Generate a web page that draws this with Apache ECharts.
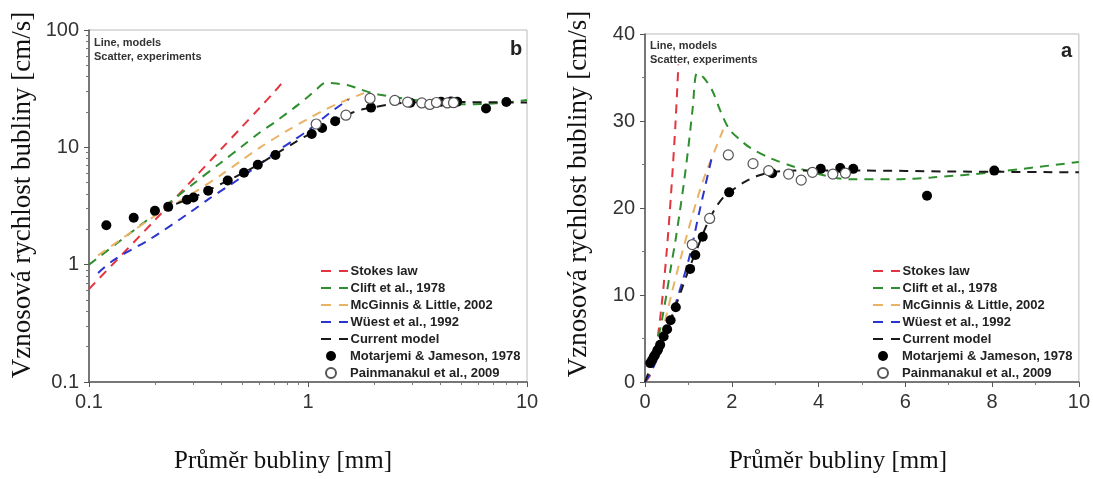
<!DOCTYPE html>
<html>
<head>
	<meta charset="utf-8">
	<title>Vznosova rychlost bubliny</title>
	<script src="https://cdn.jsdelivr.net/npm/echarts@6/dist/echarts.min.js"></script>
</head>
<body style="margin:0;background:#fff">
<div id="container" style="width:1093px;height:479px;"></div>
<script type="text/javascript">
	// modely: [prumer bubliny mm, rychlost cm/s]
	var stokes = [[0.1,0.62],[0.2,2.4],[0.3,5.4],[0.4,9.6],[0.5,15],[0.6,21.6],[0.7,29.5],[0.77,36.5]];
	var clift = [[0.1,1.0],[0.2,2.7],[0.3,4.9],[0.4,7.4],[0.5,10.2],[0.6,13.3],[0.7,16.2],[0.8,19.5],[0.9,23],[1.0,27],[1.1,31.5],[1.2,35.5],
		[1.35,35],[1.55,33.5],[1.75,31],[1.95,29],[2.2,27.8],[2.43,26.9],[2.9,25.7],[3.4,24.8],[4.0,23.9],[4.7,23.3],[5.8,23.3],[6.6,23.5],[8.0,24.1],[10,25.3]];
	var mcginnis = [[0.11,1.2],[0.15,1.8],[0.2,2.6],[0.3,4.1],[0.4,5.8],[0.5,7.8],[0.6,9.9],[0.8,13.8],[1.0,17.5],[1.2,21],[1.4,24],[1.6,26.5],[1.8,29]];
	var wuest = [[0.11,0.85],[0.13,1.1],[0.19,1.65],[0.29,2.8],[0.35,3.6],[0.5,5.6],[0.73,9.4],[0.86,11.5],[1.03,14.5],[1.25,19.5],[1.53,25.6]];
	var current = [[0.25,3.3],[0.3,3.75],[0.35,4.3],[0.43,5.2],[0.5,6.0],[0.6,7.2],[0.7,8.6],[0.85,10.7],[1.0,12.8],[1.2,15.3],[1.4,17.8],[1.6,19.8],
		[1.8,21.2],[2.0,22.0],[2.3,23],[2.6,23.7],[2.9,24.1],[3.5,24.3],[5,24.3],[7,24.2],[10,24.1]];
	// experimenty
	var motarjemi = [[0.12,2.17],[0.16,2.51],[0.2,2.88],[0.23,3.11],[0.28,3.57],[0.3,3.74],[0.35,4.27],[0.43,5.22],[0.51,6.07],[0.59,7.1],[0.71,8.6],
		[1.04,13.0],[1.16,14.6],[1.33,16.7],[1.94,21.8],[2.93,24.0],[4.05,24.5],[4.5,24.6],[4.8,24.5],[6.5,21.4],[8.05,24.3]];
	var painmanakul = [[1.09,15.8],[1.49,18.8],[1.92,26.1],[2.49,25.1],[2.85,24.3],[3.31,23.9],[3.6,23.2],[3.86,24.1],[4.33,23.9],[4.62,24.0]];

	var lineNames = ['Stokes law','Clift et al., 1978','McGinnis & Little, 2002','Wüest et al., 1992','Current model'];
	var dotNames = ['Motarjemi & Jameson, 1978','Painmanakul et al., 2009'];
	var models = [stokes, clift, mcginnis, wuest, current];
	var colors = ['#e3343f','#2f8f2f','#e9b265','#2a35d0','#1a1a1a'];
	var origin = [[0,0]];

	var dom = document.getElementById('container');
	var myChart = echarts.init(dom);

	var series = [];
	for (var p = 0; p < 2; p++) {
		for (var i = 0; i < models.length; i++) {
			series.push({
				name: lineNames[i],
				type: 'line',
				xAxisIndex: p, yAxisIndex: p,
				// v linearnim grafu cary zacinaji v pocatku
				data: p == 1 ? origin.concat(models[i]) : models[i],
				symbol: 'none',
				smooth: 0.3,
				lineStyle: {color: colors[i], width: 2, type: [9, 7]},
				itemStyle: {color: colors[i]},
				z: 2
			});
		}
		series.push({
			name: dotNames[0], type: 'scatter', xAxisIndex: p, yAxisIndex: p,
			data: motarjemi, symbolSize: 10,
			itemStyle: {color: '#000', opacity: 1}, z: 4
		});
		series.push({
			name: dotNames[1], type: 'scatter', xAxisIndex: p, yAxisIndex: p,
			data: painmanakul, symbolSize: 10,
			itemStyle: {color: '#fff', borderColor: '#555', borderWidth: 1.2, opacity: 1}, z: 5
		});
	}

	var tickFont = {fontFamily: 'Liberation Sans', fontSize: 20, color: '#333'};
	var xTitleFont = {fontFamily: 'Liberation Serif', fontSize: 25, color: '#111'};
	var yTitleFont = {fontFamily: 'Liberation Serif', fontSize: 27, color: '#111'};
	var axisLine = {show: true, lineStyle: {color: '#555', width: 1.5}};
	var legendText = {fontFamily: 'Liberation Sans', fontSize: 13, fontWeight: 'bold', color: '#222', padding: [0, 0, 0, -4], lineHeight: 14};

	// legenda: cary (carkovana ikona) a body zvlast
	function lineLegend(left) {
		return {
			left: left, top: 259, orient: 'vertical',
			itemWidth: 30, itemHeight: 2, itemGap: 3,
			icon: 'path://M0,0H10V2H0ZM18,0H27V2H18Z',
			data: lineNames, textStyle: legendText
		};
	}
	function dotLegend(left) {
		return {
			left: left + 4, top: 344, orient: 'vertical',
			itemWidth: 30, itemHeight: 10, itemGap: 3,
			icon: 'circle',
			data: dotNames, textStyle: Object.assign({}, legendText, {padding: [0, 0, 0, -1]})
		};
	}
	var noteStyle = {text: 'Line, models\nScatter, experiments', font: 'bold 11px Liberation Sans', fill: '#333', lineHeight: 14};

	var option = {
		animation: false,
		backgroundColor: '#fff',
		grid: [
			{left: 89, top: 30, width: 438, height: 353, show: true, borderColor: '#bbb', borderWidth: 1},
			{left: 645, top: 34, width: 435, height: 350, show: true, borderColor: '#bbb', borderWidth: 1}
		],
		xAxis: [
			{
				type: 'log', logBase: 10, min: 0.1, max: 10, gridIndex: 0,
				name: 'Průměr bubliny [mm]', nameLocation: 'middle', nameGap: 67,
				nameTextStyle: Object.assign({padding: [0, 50, 0, 0]}, xTitleFont),
				axisLine: axisLine, axisTick: {show: true, length: 5, lineStyle: {color: '#555'}},
				minorTick: {show: true, splitNumber: 9, length: 3, lineStyle: {color: '#777'}},
				splitLine: {show: false},
				axisLabel: Object.assign({margin: 10, formatter: function (v) { return String(+v.toPrecision(2)); }}, tickFont)
			},
			{
				type: 'value', min: 0, max: 10, interval: 2, gridIndex: 1,
				name: 'Průměr bubliny [mm]', nameLocation: 'middle', nameGap: 67,
				nameTextStyle: Object.assign({padding: [0, 48, 0, 0]}, xTitleFont),
				axisLine: axisLine, axisTick: {show: true, length: 5, lineStyle: {color: '#555'}},
				minorTick: {show: true, splitNumber: 2, length: 3, lineStyle: {color: '#777'}},
				splitLine: {show: false},
				axisLabel: Object.assign({margin: 10}, tickFont)
			}
		],
		yAxis: [
			{
				type: 'log', logBase: 10, min: 0.1, max: 100, gridIndex: 0,
				name: 'Vznosová rychlost bubliny [cm/s]', nameLocation: 'middle', nameGap: 53,
				nameTextStyle: Object.assign({padding: [0, 0, 0, 22]}, yTitleFont),
				axisLine: axisLine, axisTick: {show: true, length: 5, lineStyle: {color: '#555'}},
				minorTick: {show: true, splitNumber: 9, length: 3, lineStyle: {color: '#777'}},
				splitLine: {show: false},
				axisLabel: Object.assign({margin: 10, formatter: function (v) { return String(+v.toPrecision(2)); }}, tickFont)
			},
			{
				type: 'value', min: 0, max: 40, interval: 10, gridIndex: 1,
				name: 'Vznosová rychlost bubliny [cm/s]', nameLocation: 'middle', nameGap: 53,
				nameTextStyle: Object.assign({padding: [0, 0, 0, 28]}, yTitleFont),
				axisLine: axisLine, axisTick: {show: true, length: 5, lineStyle: {color: '#555'}},
				minorTick: {show: true, splitNumber: 2, length: 3, lineStyle: {color: '#777'}},
				splitLine: {show: false},
				axisLabel: Object.assign({margin: 10}, tickFont)
			}
		],
		legend: [lineLegend(316), dotLegend(316), lineLegend(868), dotLegend(868)],
		graphic: [
			{type: 'text', left: 94, top: 36, style: noteStyle},
			{type: 'text', left: 650, top: 39, style: noteStyle},
			{type: 'text', left: 510, top: 39, style: {text: 'b', font: 'bold 20px Liberation Sans', fill: '#222'}},
			{type: 'text', left: 1061, top: 41, style: {text: 'a', font: 'bold 20px Liberation Sans', fill: '#222'}}
		],
		series: series
	};
	myChart.setOption(option);
	window.addEventListener('resize', myChart.resize);
</script>
</body>
</html>
